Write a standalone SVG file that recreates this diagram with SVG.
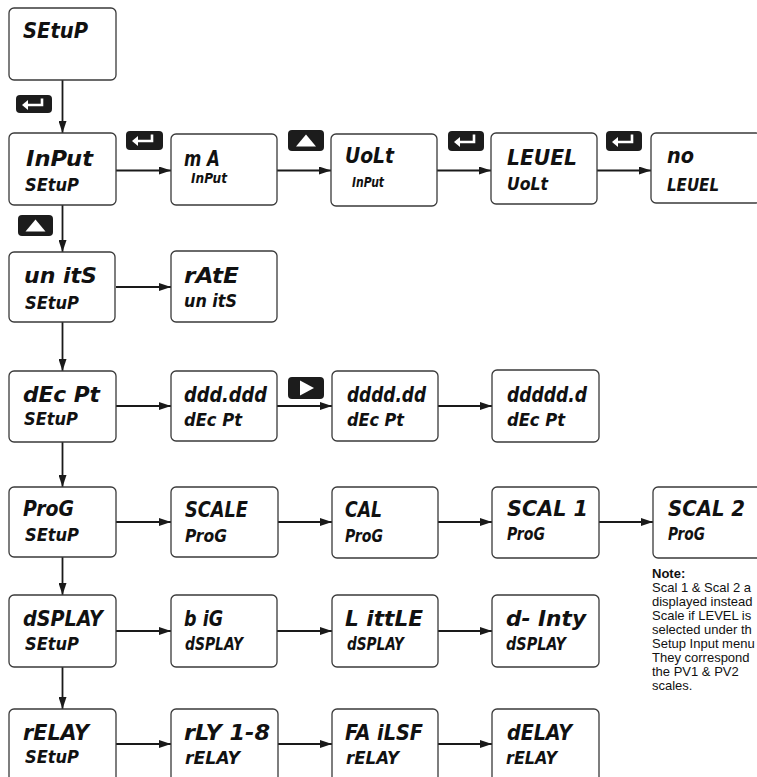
<svg xmlns="http://www.w3.org/2000/svg" width="757" height="777" viewBox="0 0 757 777">
<style>
.box{fill:#fff;stroke:#3a3a3a;stroke-width:1.3}
.m{font-family:'DejaVu Sans Condensed','DejaVu Sans',sans-serif;font-weight:bold;font-style:italic;font-size:22px;fill:#111}
.s{font-family:'DejaVu Sans Condensed','DejaVu Sans',sans-serif;font-weight:bold;font-style:italic;font-size:17px;fill:#111}
.x{font-family:'DejaVu Sans Condensed','DejaVu Sans',sans-serif;font-weight:bold;font-style:italic;font-size:14px;fill:#111}
.btn{fill:#1c1c1c}
.ico{fill:none;stroke:#fff;stroke-width:2.6}
.icf{fill:#fff}
.conn line{stroke:#1a1a1a;stroke-width:1.8}
.note{font-family:'Liberation Sans',Arial,sans-serif;font-size:13px;fill:#111}
</style>
<defs>
<marker id="ah" markerUnits="userSpaceOnUse" markerWidth="12" markerHeight="8" refX="12" refY="4" orient="auto">
<path d="M0,0 L12,4 L0,8 z" fill="#1a1a1a"/>
</marker>
</defs>

<g class="conn">
<line x1="62.5" y1="80" x2="62.5" y2="133" marker-end="url(#ah)"/>
<line x1="62.5" y1="205" x2="62.5" y2="252" marker-end="url(#ah)"/>
<line x1="62.5" y1="322" x2="62.5" y2="371" marker-end="url(#ah)"/>
<line x1="62.5" y1="442" x2="62.5" y2="487" marker-end="url(#ah)"/>
<line x1="62.5" y1="557" x2="62.5" y2="595" marker-end="url(#ah)"/>
<line x1="62.5" y1="667" x2="62.5" y2="709" marker-end="url(#ah)"/>
<line x1="116" y1="170.5" x2="171" y2="170.5" marker-end="url(#ah)"/>
<line x1="277" y1="170.5" x2="331" y2="170.5" marker-end="url(#ah)"/>
<line x1="437" y1="170.5" x2="491" y2="170.5" marker-end="url(#ah)"/>
<line x1="597" y1="170.5" x2="651" y2="170.5" marker-end="url(#ah)"/>
<line x1="116" y1="287" x2="171" y2="287" marker-end="url(#ah)"/>
<line x1="116" y1="406" x2="171" y2="406" marker-end="url(#ah)"/>
<line x1="277" y1="406" x2="332" y2="406" marker-end="url(#ah)"/>
<line x1="438" y1="406" x2="492" y2="406" marker-end="url(#ah)"/>
<line x1="116" y1="522" x2="171" y2="522" marker-end="url(#ah)"/>
<line x1="278" y1="522" x2="332" y2="522" marker-end="url(#ah)"/>
<line x1="438" y1="522" x2="492" y2="522" marker-end="url(#ah)"/>
<line x1="599" y1="522" x2="653" y2="522" marker-end="url(#ah)"/>
<line x1="116" y1="631" x2="171" y2="631" marker-end="url(#ah)"/>
<line x1="277" y1="631" x2="332" y2="631" marker-end="url(#ah)"/>
<line x1="438" y1="631" x2="492" y2="631" marker-end="url(#ah)"/>
<line x1="116" y1="744" x2="171" y2="744" marker-end="url(#ah)"/>
<line x1="277" y1="744" x2="332" y2="744" marker-end="url(#ah)"/>
<line x1="438" y1="744" x2="492" y2="744" marker-end="url(#ah)"/>
</g>

<g id="buttons">
<g id="btn-enter1"><rect class="btn" x="16" y="95" width="36" height="18" rx="4"/><path class="ico" d="M42,98.5 V105 H27"/><polygon class="icf" points="22,105 28,100 28,110"/></g>
<g id="btn-enter2"><rect class="btn" x="126" y="131" width="37" height="19" rx="4"/><path class="ico" d="M152,134.5 V141 H137"/><polygon class="icf" points="132,141 138,136 138,146"/></g>
<g id="btn-up1"><rect class="btn" x="288" y="130" width="36" height="21" rx="4"/><polygon class="icf" points="306,134.5 316,146.5 296,146.5"/></g>
<g id="btn-enter3"><rect class="btn" x="448" y="131" width="36" height="20" rx="4"/><path class="ico" d="M474,134.5 V142 H459"/><polygon class="icf" points="454,142 460,137 460,147"/></g>
<g id="btn-enter4"><rect class="btn" x="606" y="131" width="36" height="20" rx="4"/><path class="ico" d="M632,134.5 V142 H617"/><polygon class="icf" points="612,142 618,137 618,147"/></g>
<g id="btn-up2"><rect class="btn" x="18" y="215" width="35" height="21" rx="4"/><polygon class="icf" points="35.5,219.5 45.5,231.5 25.5,231.5"/></g>
<g id="btn-right"><rect class="btn" x="288" y="377" width="36" height="22" rx="4"/><polygon class="icf" points="300,380.5 300,395.5 314,388"/></g>
</g>

<g id="n-setup"><rect class="box" x="9" y="8" width="107" height="72" rx="5"/><text class="m" x="23" y="38" textLength="65" lengthAdjust="spacingAndGlyphs">SEtuP</text></g>

<g id="n-input"><rect class="box" x="9" y="133" width="107" height="72" rx="5"/><text class="m" x="26" y="166" textLength="67" lengthAdjust="spacingAndGlyphs">InPut</text><text class="s" x="25" y="191" textLength="54" lengthAdjust="spacingAndGlyphs">SEtuP</text></g>
<g id="n-ma"><rect class="box" x="171" y="134" width="106" height="71" rx="5"/><text class="m" x="184" y="166" textLength="36" lengthAdjust="spacingAndGlyphs">m A</text><text class="x" x="191" y="183" textLength="36" lengthAdjust="spacingAndGlyphs">InPut</text></g>
<g id="n-volt"><rect class="box" x="331" y="134" width="106" height="72" rx="5"/><text class="m" x="345" y="163" textLength="49" lengthAdjust="spacingAndGlyphs">UoLt</text><text class="x" x="352" y="187" textLength="32" lengthAdjust="spacingAndGlyphs">InPut</text></g>
<g id="n-level"><rect class="box" x="491" y="133" width="106" height="71" rx="5"/><text class="m" x="507" y="165" textLength="70" lengthAdjust="spacingAndGlyphs">LEUEL</text><text class="s" x="507" y="190" textLength="41" lengthAdjust="spacingAndGlyphs">UoLt</text></g>
<g id="n-no"><rect class="box" x="651" y="133" width="110" height="70" rx="5"/><text class="m" x="667" y="163" textLength="27" lengthAdjust="spacingAndGlyphs">no</text><text class="s" x="667" y="191" textLength="52" lengthAdjust="spacingAndGlyphs">LEUEL</text></g>

<g id="n-units"><rect class="box" x="9" y="252" width="106" height="70" rx="5"/><text class="m" x="24" y="283" textLength="73" lengthAdjust="spacingAndGlyphs">un itS</text><text class="s" x="25" y="309" textLength="54" lengthAdjust="spacingAndGlyphs">SEtuP</text></g>
<g id="n-rate"><rect class="box" x="171" y="251" width="106" height="71" rx="5"/><text class="m" x="184" y="283" textLength="55" lengthAdjust="spacingAndGlyphs">rAtE</text><text class="s" x="184" y="307" textLength="53" lengthAdjust="spacingAndGlyphs">un itS</text></g>

<g id="n-decpt"><rect class="box" x="9" y="371" width="107" height="71" rx="5"/><text class="m" x="23" y="402" textLength="77" lengthAdjust="spacingAndGlyphs">dEc Pt</text><text class="s" x="24" y="425" textLength="54" lengthAdjust="spacingAndGlyphs">SEtuP</text></g>
<g id="n-d3"><rect class="box" x="171" y="371" width="106" height="70" rx="5"/><text class="m" x="184" y="402" textLength="83" lengthAdjust="spacingAndGlyphs">ddd.ddd</text><text class="s" x="184" y="426" textLength="58" lengthAdjust="spacingAndGlyphs">dEc Pt</text></g>
<g id="n-d2"><rect class="box" x="332" y="371" width="106" height="70" rx="5"/><text class="m" x="347" y="402" textLength="79" lengthAdjust="spacingAndGlyphs">dddd.dd</text><text class="s" x="347" y="426" textLength="57" lengthAdjust="spacingAndGlyphs">dEc Pt</text></g>
<g id="n-d1"><rect class="box" x="492" y="370" width="107" height="72" rx="5"/><text class="m" x="507" y="402" textLength="80" lengthAdjust="spacingAndGlyphs">ddddd.d</text><text class="s" x="507" y="426" textLength="58" lengthAdjust="spacingAndGlyphs">dEc Pt</text></g>

<g id="n-prog"><rect class="box" x="9" y="487" width="107" height="70" rx="5"/><text class="m" x="23" y="516" textLength="51" lengthAdjust="spacingAndGlyphs">ProG</text><text class="s" x="25" y="541" textLength="54" lengthAdjust="spacingAndGlyphs">SEtuP</text></g>
<g id="n-scale"><rect class="box" x="171" y="487" width="107" height="70" rx="5"/><text class="m" x="185" y="517" textLength="63" lengthAdjust="spacingAndGlyphs">SCALE</text><text class="s" x="185" y="542" textLength="42" lengthAdjust="spacingAndGlyphs">ProG</text></g>
<g id="n-cal"><rect class="box" x="332" y="487" width="106" height="71" rx="5"/><text class="m" x="345" y="517" textLength="37" lengthAdjust="spacingAndGlyphs">CAL</text><text class="s" x="345" y="542" textLength="38" lengthAdjust="spacingAndGlyphs">ProG</text></g>
<g id="n-scal1"><rect class="box" x="492" y="487" width="107" height="71" rx="5"/><text class="m" x="507" y="516" textLength="81" lengthAdjust="spacingAndGlyphs">SCAL 1</text><text class="s" x="507" y="540" textLength="38" lengthAdjust="spacingAndGlyphs">ProG</text></g>
<g id="n-scal2"><rect class="box" x="653" y="487" width="110" height="71" rx="5"/><text class="m" x="668" y="516" textLength="77" lengthAdjust="spacingAndGlyphs">SCAL 2</text><text class="s" x="668" y="540" textLength="37" lengthAdjust="spacingAndGlyphs">ProG</text></g>

<g id="n-dsplay"><rect class="box" x="9" y="595" width="107" height="72" rx="5"/><text class="m" x="23" y="626" textLength="80" lengthAdjust="spacingAndGlyphs">dSPLAY</text><text class="s" x="25" y="650" textLength="54" lengthAdjust="spacingAndGlyphs">SEtuP</text></g>
<g id="n-big"><rect class="box" x="171" y="595" width="106" height="72" rx="5"/><text class="m" x="184" y="626" textLength="39" lengthAdjust="spacingAndGlyphs">b iG</text><text class="s" x="185" y="650" textLength="58" lengthAdjust="spacingAndGlyphs">dSPLAY</text></g>
<g id="n-little"><rect class="box" x="332" y="595" width="106" height="72" rx="5"/><text class="m" x="345" y="626" textLength="78" lengthAdjust="spacingAndGlyphs">L ittLE</text><text class="s" x="347" y="650" textLength="57" lengthAdjust="spacingAndGlyphs">dSPLAY</text></g>
<g id="n-dinty"><rect class="box" x="492" y="595" width="107" height="72" rx="5"/><text class="m" x="506" y="626" textLength="80" lengthAdjust="spacingAndGlyphs">d- Inty</text><text class="s" x="506" y="650" textLength="60" lengthAdjust="spacingAndGlyphs">dSPLAY</text></g>

<g id="n-relay"><rect class="box" x="9" y="709" width="107" height="75" rx="5"/><text class="m" x="23" y="740" textLength="66" lengthAdjust="spacingAndGlyphs">rELAY</text><text class="s" x="25" y="763" textLength="54" lengthAdjust="spacingAndGlyphs">SEtuP</text></g>
<g id="n-rly"><rect class="box" x="171" y="709" width="107" height="75" rx="5"/><text class="m" x="184" y="740" textLength="86" lengthAdjust="spacingAndGlyphs">rLY 1-8</text><text class="s" x="185" y="764" textLength="55" lengthAdjust="spacingAndGlyphs">rELAY</text></g>
<g id="n-failsf"><rect class="box" x="332" y="709" width="106" height="75" rx="5"/><text class="m" x="345" y="740" textLength="78" lengthAdjust="spacingAndGlyphs">FA iLSF</text><text class="s" x="346" y="764" textLength="53" lengthAdjust="spacingAndGlyphs">rELAY</text></g>
<g id="n-delay"><rect class="box" x="492" y="709" width="107" height="75" rx="5"/><text class="m" x="507" y="740" textLength="65" lengthAdjust="spacingAndGlyphs">dELAY</text><text class="s" x="506" y="764" textLength="51" lengthAdjust="spacingAndGlyphs">rELAY</text></g>

<g id="note">
<text class="note" x="652" y="578" font-weight="bold">Note:</text>
<text class="note" x="652" y="592">Scal 1 &amp; Scal 2 a</text>
<text class="note" x="652" y="606">displayed instead</text>
<text class="note" x="652" y="620">Scale if LEVEL is</text>
<text class="note" x="652" y="634">selected under th</text>
<text class="note" x="652" y="648">Setup Input menu</text>
<text class="note" x="652" y="662">They correspond</text>
<text class="note" x="652" y="676">the PV1 &amp; PV2</text>
<text class="note" x="652" y="690">scales.</text>
</g>
</svg>
